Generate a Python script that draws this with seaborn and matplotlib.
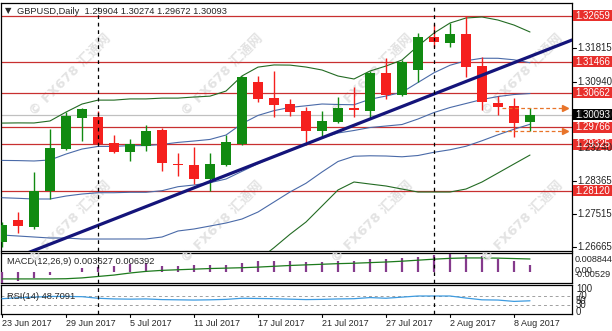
import matplotlib
matplotlib.use("Agg")
import matplotlib.pyplot as plt
import matplotlib.transforms as mtransforms
from matplotlib.patches import Rectangle
from matplotlib.lines import Line2D
import numpy as np
import pandas as pd
import seaborn as sns

sns.set_style("white")
plt.rcParams['font.family'] = ['Liberation Sans', 'DejaVu Sans', 'Noto Sans CJK SC']

# ---------------- data ----------------
dates = ["23 Jun", "26 Jun", "27 Jun", "28 Jun", "29 Jun", "30 Jun", "3 Jul", "4 Jul",
         "5 Jul", "6 Jul", "7 Jul", "10 Jul", "11 Jul", "12 Jul", "13 Jul", "14 Jul",
         "17 Jul", "18 Jul", "19 Jul", "20 Jul", "21 Jul", "24 Jul", "25 Jul", "26 Jul",
         "27 Jul", "28 Jul", "31 Jul", "1 Aug", "2 Aug", "3 Aug", "4 Aug", "7 Aug",
         "8 Aug", "9 Aug"]
opens = [1.26792, 1.27362, 1.27181, 1.28114, 1.29204, 1.30008, 1.30034, 1.29360, 1.29126,
         1.29282, 1.29697, 1.28802, 1.28789, 1.28426, 1.28789, 1.29334, 1.30942, 1.30527,
         1.30371, 1.30190, 1.29671, 1.29904, 1.30267, 1.30190, 1.31175, 1.30605, 1.31253,
         1.32109, 1.31954, 1.32187, 1.31357, 1.30397, 1.30319, 1.29904]
highs = [1.27310, 1.27570, 1.28607, 1.29723, 1.30164, 1.30267, 1.30190, 1.29567, 1.29463,
         1.29826, 1.29749, 1.29100, 1.29256, 1.29100, 1.29567, 1.31098, 1.31098, 1.31227,
         1.30501, 1.30293, 1.30190, 1.30553, 1.30812, 1.31227, 1.31564, 1.31513, 1.32213,
         1.32446, 1.32472, 1.32659, 1.31590, 1.30579, 1.30527, 1.30274]
lows = [1.26662, 1.27025, 1.27129, 1.27907, 1.29178, 1.29411, 1.29308, 1.29100, 1.28893,
        1.29152, 1.28633, 1.28504, 1.28296, 1.28114, 1.28763, 1.29308, 1.30423, 1.30034,
        1.30060, 1.29308, 1.29515, 1.29878, 1.30034, 1.30008, 1.30501, 1.30579, 1.30942,
        1.31850, 1.31850, 1.31072, 1.30216, 1.30086, 1.29515, 1.29672]
closes = [1.27232, 1.27207, 1.28114, 1.29230, 1.30060, 1.30242, 1.29334, 1.29126, 1.29334,
          1.29671, 1.28841, 1.28789, 1.28426, 1.28815, 1.29386, 1.31072, 1.30501, 1.30345,
          1.30164, 1.29671, 1.29930, 1.30267, 1.30216, 1.31175, 1.30605, 1.31461, 1.32109,
          1.31980, 1.32187, 1.31331, 1.30423, 1.30293, 1.29878, 1.30093]
bb_mid = [1.27940, 1.27925, 1.27907, 1.27907, 1.27984, 1.28036, 1.28070, 1.28070, 1.28081,
          1.28081, 1.28122, 1.28226, 1.28270, 1.28329, 1.28425, 1.28625, 1.28822, 1.29014,
          1.29186, 1.29320, 1.29489, 1.29619, 1.29684, 1.29761, 1.29800, 1.29839, 1.29982,
          1.30150, 1.30280, 1.30384, 1.30488, 1.30565, 1.30617, 1.30643]
bb_sigma = [0.00968, 0.00978, 0.00986, 0.01012, 0.01089, 0.01167, 0.01201, 0.01201, 0.01211,
            0.01211, 0.01201, 0.01149, 0.01141, 0.01123, 0.01141, 0.01237, 0.01253, 0.01185,
            0.01097, 0.01005, 0.00882, 0.00739, 0.00668, 0.00733, 0.00778, 0.00837, 0.00947,
            0.01031, 0.01096, 0.01109, 0.01070, 0.00992, 0.00901, 0.00798]
macd_main = [-0.00529, -0.0044, -0.0029, -0.0015, 0.0001, 0.0020, 0.0025, 0.0030, 0.0039,
             0.0044, 0.0030, 0.0030, 0.0032, 0.0032, 0.0033, 0.0044, 0.0054, 0.0054, 0.0054,
             0.0049, 0.0049, 0.0054, 0.0054, 0.0064, 0.0064, 0.0069, 0.0074, 0.0083, 0.008844,
             0.0083, 0.0078, 0.0064, 0.0054, 0.003627]
macd_signal = [-0.0034, -0.0034, -0.0034, -0.0034, -0.0033, -0.0029, -0.0022, -0.0015, -0.0005,
               0.0003, 0.0008, 0.0011, 0.0014, 0.0017, 0.0019, 0.0021, 0.0024, 0.0028, 0.0032,
               0.0035, 0.0038, 0.0041, 0.0043, 0.0046, 0.0049, 0.0053, 0.0058, 0.0063, 0.0067,
               0.0069, 0.0069, 0.0068, 0.0066, 0.006392]
rsi_vals = [58, 62, 65, 68, 68, 67, 60, 57, 56, 57, 54, 53, 52, 53, 55, 60, 59, 58, 56, 54,
            55, 57, 58, 63, 60, 65, 70, 70, 70, 61, 53, 52, 46, 48.7091]

date_ticks = [0, 4, 8, 12, 16, 20, 24, 28, 32]
date_labels = ["23 Jun 2017", "29 Jun 2017", "5 Jul 2017", "11 Jul 2017", "17 Jul 2017",
               "21 Jul 2017", "27 Jul 2017", "2 Aug 2017", "8 Aug 2017"]
month_sep = [6, 27]
level_lines = [1.32659, 1.31466, 1.30662, 1.29766, 1.29325, 1.28120]
scale_ticks = [1.31815, 1.30940, 1.30090, 1.29240, 1.28365, 1.27515, 1.26665]
current_price = 1.30093
trend_x = [9.25, 35.625]
trend_y = [1.27750, 1.32031]
range_hi, range_lo = 1.30274, 1.29672
title = "GBPUSD,Daily  1.29904 1.30274 1.29672 1.30093"

# ---------------- layout ----------------
W, H = 612, 331
fig = plt.figure(figsize=(W / 100, H / 100), dpi=100)
fig.patch.set_facecolor("white")

def frac(l, t, r, b):
    return [l / W, 1 - b / H, (r - l) / W, (b - t) / H]

ax = fig.add_axes(frac(1, 2.5, 572, 250.5))
axm = fig.add_axes(frac(1, 252.5, 572, 283))
axr = fig.add_axes(frac(1, 285, 572, 314))

XL = (-0.0625, 35.625)
for a in (ax, axm, axr):
    a.set_xlim(*XL)
    a.set_xticks([])
    a.set_yticks([])
    a.set_facecolor("white")
    for s in a.spines.values():
        s.set_color("black")
        s.set_linewidth(0.9)
        s.set_visible(True)

YMAX, YMIN = 1.33004, 1.26571
ax.set_ylim(YMIN, YMAX)
idx = np.arange(len(dates))

GREEN = "#118a11"
RED = "#f5201e"
LVL = "#c83030"
FS = 6.9

# watermarks
for wy in (75, 222):
    for wx in (70, 222, 372, 522):
        fig.text(wx / W, 1 - wy / H, "© FX678 汇通网", rotation=45, ha="center", va="center",
                 fontsize=9.5, fontweight="bold", color="#e3e3e3",
                 family=["DejaVu Sans", "Noto Sans CJK SC"], zorder=0.5)
ax.set_zorder(1)
ax.patch.set_alpha(0)

# level lines and current price line
for lv in level_lines:
    ax.axhline(lv, color=LVL, lw=0.9, zorder=2)
ax.axhline(current_price, color="#c0c0c0", lw=0.9, zorder=1.5)

# Bollinger bands
mid = np.array(bb_mid)
sig = np.array(bb_sigma)
bands = pd.DataFrame({"i": idx, "u2": mid + 2 * sig, "u1": mid + sig, "m": mid,
                      "l1": mid - sig, "l2": mid - 2 * sig})
for col, c in (("u2", "#236b23"), ("l2", "#236b23"), ("u1", "#4a6aa8"),
               ("m", "#4a6aa8"), ("l1", "#4a6aa8")):
    sns.lineplot(data=bands, x="i", y=col, ax=ax, color=c, lw=0.8, zorder=3)

# trend line
tx = np.array(trend_x)
ty = np.array(trend_y)
slope = (ty[1] - ty[0]) / (tx[1] - tx[0])
ext_x = np.array([-1.0, tx[1]])
sns.lineplot(x=ext_x, y=ty[0] + slope * (ext_x - tx[0]), ax=ax, color="#14147a", lw=2.3, zorder=5)

# candles
for i in idx:
    o, h, l, c = opens[i], highs[i], lows[i], closes[i]
    col = GREEN if c >= o else RED
    ax.vlines(i, l, h, color=col, lw=1.0, zorder=4)
    bh = max(abs(c - o), 0.00030)
    ax.bar(i, bh, bottom=min(o, c) - (bh - abs(c - o)) / 2, width=0.68, color=col,
           edgecolor=col, lw=0, zorder=4.5)

# dashed range arrows
for y0, x0 in ((range_hi, 31.25), (range_lo, 30.8)):
    ax.plot([x0, 35.2], [y0, y0], ls=(0, (3, 2)), color="#e8742a", lw=0.9, zorder=5)
    ax.plot([35.2], [y0], marker=">", ms=4, color="#e8742a", zorder=5)

ax.set_xlabel("")
ax.set_ylabel("")

# month separators
for a in (ax, axm, axr):
    for m in month_sep:
        a.axvline(m, color="black", lw=0.9, ls=(0, (3, 3)), zorder=6)

# title
ax.text(4 / 571, 1 - 8.5 / 248, "▼", transform=ax.transAxes, fontsize=6,
        family=["DejaVu Sans"], va="center", ha="left")
ax.text(16 / 571, 1 - 8.5 / 248, title, transform=ax.transAxes, fontsize=6.7,
        va="center", ha="left")

# right-side price labels
trb = mtransforms.blended_transform_factory(fig.transFigure, ax.transData)
px = 1 / 3855
for t in scale_ticks:
    fig.add_artist(Line2D([572 / W, 576 / W], [t, t], transform=trb, color="black", lw=0.8))
    fig.text(577.5 / W, t, f"{t:.5f}", transform=trb, fontsize=FS, va="center", ha="left")
for lv in level_lines:
    fig.add_artist(Rectangle((573 / W, lv - 5.5 * px), 40 / W, 11 * px, transform=trb,
                             facecolor="#e8302c", edgecolor="none", zorder=3))
    fig.text(575 / W, lv, f"{lv:.5f}", transform=trb, fontsize=FS, va="center", ha="left",
             color="white", zorder=4)
fig.add_artist(Rectangle((573 / W, current_price - 5.5 * px), 40 / W, 11 * px, transform=trb,
                         facecolor="black", edgecolor="none", zorder=3))
fig.text(575 / W, current_price, f"{current_price:.5f}", transform=trb, fontsize=FS,
         va="center", ha="left", color="white", zorder=4)

# MACD panel
axm.set_ylim(-0.0054, 0.00957)
axm.vlines(idx, 0, macd_main, color="#853a8c", lw=1.6, zorder=3)
sns.lineplot(x=idx, y=macd_signal, ax=axm, color="#1d7a1d", lw=0.9, zorder=4)
axm.text(6 / 571, 0.72, "MACD(12,26,9) 0.003627 0.006392", transform=axm.transAxes,
         fontsize=6.7, va="center", ha="left")
for txt, yp in (("0.008844", 259.5), ("0.00", 270.3), ("-0.00529", 274.8)):
    fig.text(574.5 / W, 1 - yp / H, txt, fontsize=6.6, va="center", ha="left")

# RSI panel
axr.set_ylim(-10, 118.9)
for lv in (70, 30):
    axr.axhline(lv, color="#a0a0a0", lw=0.7, ls=(0, (3, 3)), zorder=2)
sns.lineplot(x=idx, y=rsi_vals, ax=axr, color="#3d9be0", lw=0.9, zorder=3)
axr.text(6 / 571, 0.62, "RSI(14) 48.7091", transform=axr.transAxes, fontsize=6.7,
         va="center", ha="left")
trr = mtransforms.blended_transform_factory(fig.transFigure, axr.transData)
for v in (100, 70, 50, 30, 0):
    fig.text(576 / W, v, str(v), transform=trr, fontsize=FS, va="center", ha="left")

for a in (axm, axr):
    a.set_xlabel("")
    a.set_ylabel("")

# date labels
for ti, lab in zip(date_ticks, date_labels):
    xp = 2 + 16 * ti
    fig.add_artist(Line2D([xp / W, xp / W], [1 - 314 / H, 1 - 317 / H], color="black", lw=0.8))
    fig.text((xp - 0.5) / W, 1 - 323.5 / H, lab, fontsize=6.5, va="center", ha="left")

fig.savefig("out.png", dpi=100)
